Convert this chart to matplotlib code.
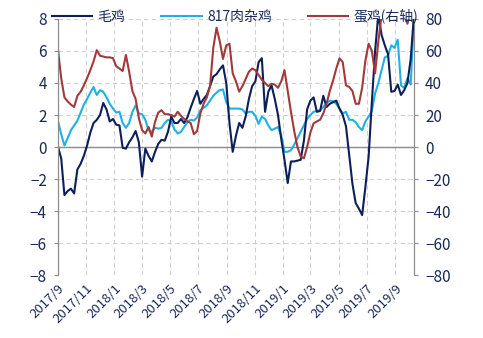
import matplotlib
matplotlib.use("Agg")
import matplotlib.pyplot as plt
import pandas as pd

plt.rcParams['font.family'] = ['Noto Sans CJK SC', 'DejaVu Sans']

# weekly data, 2017-09-01 .. 2019-10-11
dates = pd.date_range('2017-09-01', periods=111, freq='7D')

maoji = [0.0, -0.7, -3.0, -2.75, -2.6, -2.9, -1.4, -1.05, -0.55, 0.1,
         0.9, 1.5, 1.7, 2.0, 2.75, 2.35, 1.6, 1.75, 1.4, 1.35,
         -0.05, -0.1, 0.3, 0.6, 1.0, 0.3, -1.85, -0.1, -0.55, -0.9,
         -0.3, 0.2, 0.45, 0.4, 0.95, 1.9, 1.5, 1.5, 1.75, 1.5,
         1.85, 2.45, 3.0, 3.5, 2.7, 3.0, 3.25, 3.8, 4.4, 4.55,
         4.85, 5.1, 4.0, 1.5, -0.3, 0.7, 1.5, 1.2, 1.9, 3.0,
         3.8, 4.1, 5.3, 5.55, 2.2, 3.45, 3.85, 3.0, 2.0, 0.5,
         -0.8, -2.25, -0.9, -0.9, -0.85, -0.8, 0.4, 2.35, 2.9, 3.1,
         2.2, 2.25, 3.2, 2.5, 2.7, 2.8, 2.9, 2.4, 2.0, 1.3,
         -0.5, -2.3, -3.5, -3.85, -4.25, -2.5, -0.6, 2.8, 6.0, 8.3,
         7.0, 6.35, 5.8, 3.45, 3.5, 3.9, 3.25, 3.55, 4.0, 5.5,
         8.2]

zajiji = [1.65, 0.8, 0.1, 0.55, 1.05, 1.35, 1.65, 2.15, 2.65, 3.0,
          3.4, 3.75, 3.25, 3.55, 3.45, 3.1, 2.7, 2.4, 2.15, 2.2,
          1.5, 1.2, 1.5, 2.2, 2.6, 2.1, 2.05, 1.7, 1.05, 0.95,
          1.2, 1.15, 1.2, 1.5, 1.7, 1.6, 1.1, 0.85, 0.95, 1.25,
          1.55, 1.7, 1.65, 1.85, 2.3, 2.45, 2.6, 2.9, 3.2, 3.4,
          3.55, 3.6, 2.8, 2.4, 2.4, 2.4, 2.4, 2.35, 2.1, 2.2,
          2.2, 1.95, 1.45, 1.9, 1.75, 1.35, 1.05, 1.15, 1.25, 0.7,
          -0.3, -0.3, -0.2, 0.15, 0.55, 0.95, 1.35, 1.75, 2.0, 2.2,
          2.25, 2.3, 2.5, 2.75, 2.9, 2.85, 2.7, 2.4, 2.1, 2.2,
          1.7, 1.7, 1.55, 1.25, 1.05, 1.6, 1.9, 2.25, 3.35, 4.0,
          4.8, 5.6, 5.7, 6.35, 6.2, 6.7, 3.85, 3.7, 4.3, 3.9,
          8.0]

danji = [61, 43, 31, 28.5, 26.5, 25, 32, 34.5, 38.5, 43,
         48, 53.5, 60.5, 57, 56.5, 56, 56, 55.5, 50.5, 49,
         47.5, 57.5, 47, 35, 30, 18, 10.5, 8.5, 12.5, 6.5,
         15.8, 21.5, 23, 20.5, 20.5, 20, 19, 22, 19.5, 17.5,
         16, 15, 8, 10, 21, 27, 31, 38, 62, 74.5,
         66, 55, 63.5, 64.5, 46, 41, 34.6, 38, 42.5, 47,
         49, 48, 45, 42, 40, 38, 39.5, 39, 37, 41,
         48, 35, 22, 10, 0, -6, -7, 0, 9, 14.8,
         16, 17, 21, 27, 35, 41.5, 49, 55.4, 53, 38.5,
         37.5, 35, 27, 27, 37, 54, 64.5, 60, 46, 66,
         82, 86, 88, 86, 85, 84, 82, 82, 77, 85,
         88]

tick_dates = pd.date_range('2017-09-01', '2019-09-01', freq='2MS')
tick_labels = ['2017/9', '2017/11', '2018/1', '2018/3', '2018/5', '2018/7',
               '2018/9', '2018/11', '2019/1', '2019/3', '2019/5', '2019/7',
               '2019/9']

navy = '#0c1f5b'
lblue = '#1fb1e6'
red = '#a23a3c'
txt = '#1a2a5a'
gray = '#8c8c8c'

fig = plt.figure(figsize=(4.83, 3.38), dpi=100)
ax = fig.add_axes([0.120, 0.186, 0.737, 0.758])
ax2 = ax.twinx()

l1, = ax.plot(dates, maoji, color=navy, lw=1.5, label='毛鸡', zorder=4)
l2, = ax.plot(dates, zajiji, color=lblue, lw=1.5, label='817肉杂鸡', zorder=3)
l3, = ax2.plot(dates, danji, color=red, lw=1.5, label='蛋鸡(右轴)')

ax.set_xlim(dates[0], dates[-1])
ax.set_ylim(-8, 8)
ax2.set_ylim(-80, 80)
ax.set_yticks(range(-8, 9, 2))
ax2.set_yticks(range(-80, 81, 20))
ax.set_xticks(tick_dates)
ax.set_xticklabels(tick_labels, rotation=45, ha='right', rotation_mode='anchor')

ax.grid(True, ls=(0, (4, 3)), color='#cfcfcf', lw=0.8)
ax.axhline(0, color=gray, lw=1, zorder=2)
ax.set_axisbelow(True)

for a in (ax, ax2):
    a.spines['top'].set_visible(False)
    a.spines['bottom'].set_visible(False)
    a.spines['left'].set_color(gray)
    a.spines['right'].set_color(gray)
    a.tick_params(colors=txt, labelsize=11, length=3, width=0.8, pad=5)
    a.tick_params(axis='x', length=0, labelsize=9.5, pad=5)
    a.tick_params(axis='y', color=gray)

fig.legend(handles=[l1, l2, l3], loc='center', bbox_to_anchor=(0.487, 0.952),
           ncol=3, frameon=False, fontsize=10, handlelength=2.9,
           columnspacing=2.6, handletextpad=0.4, labelcolor=txt,
           borderaxespad=0)

fig.savefig('out.png', dpi=100)
